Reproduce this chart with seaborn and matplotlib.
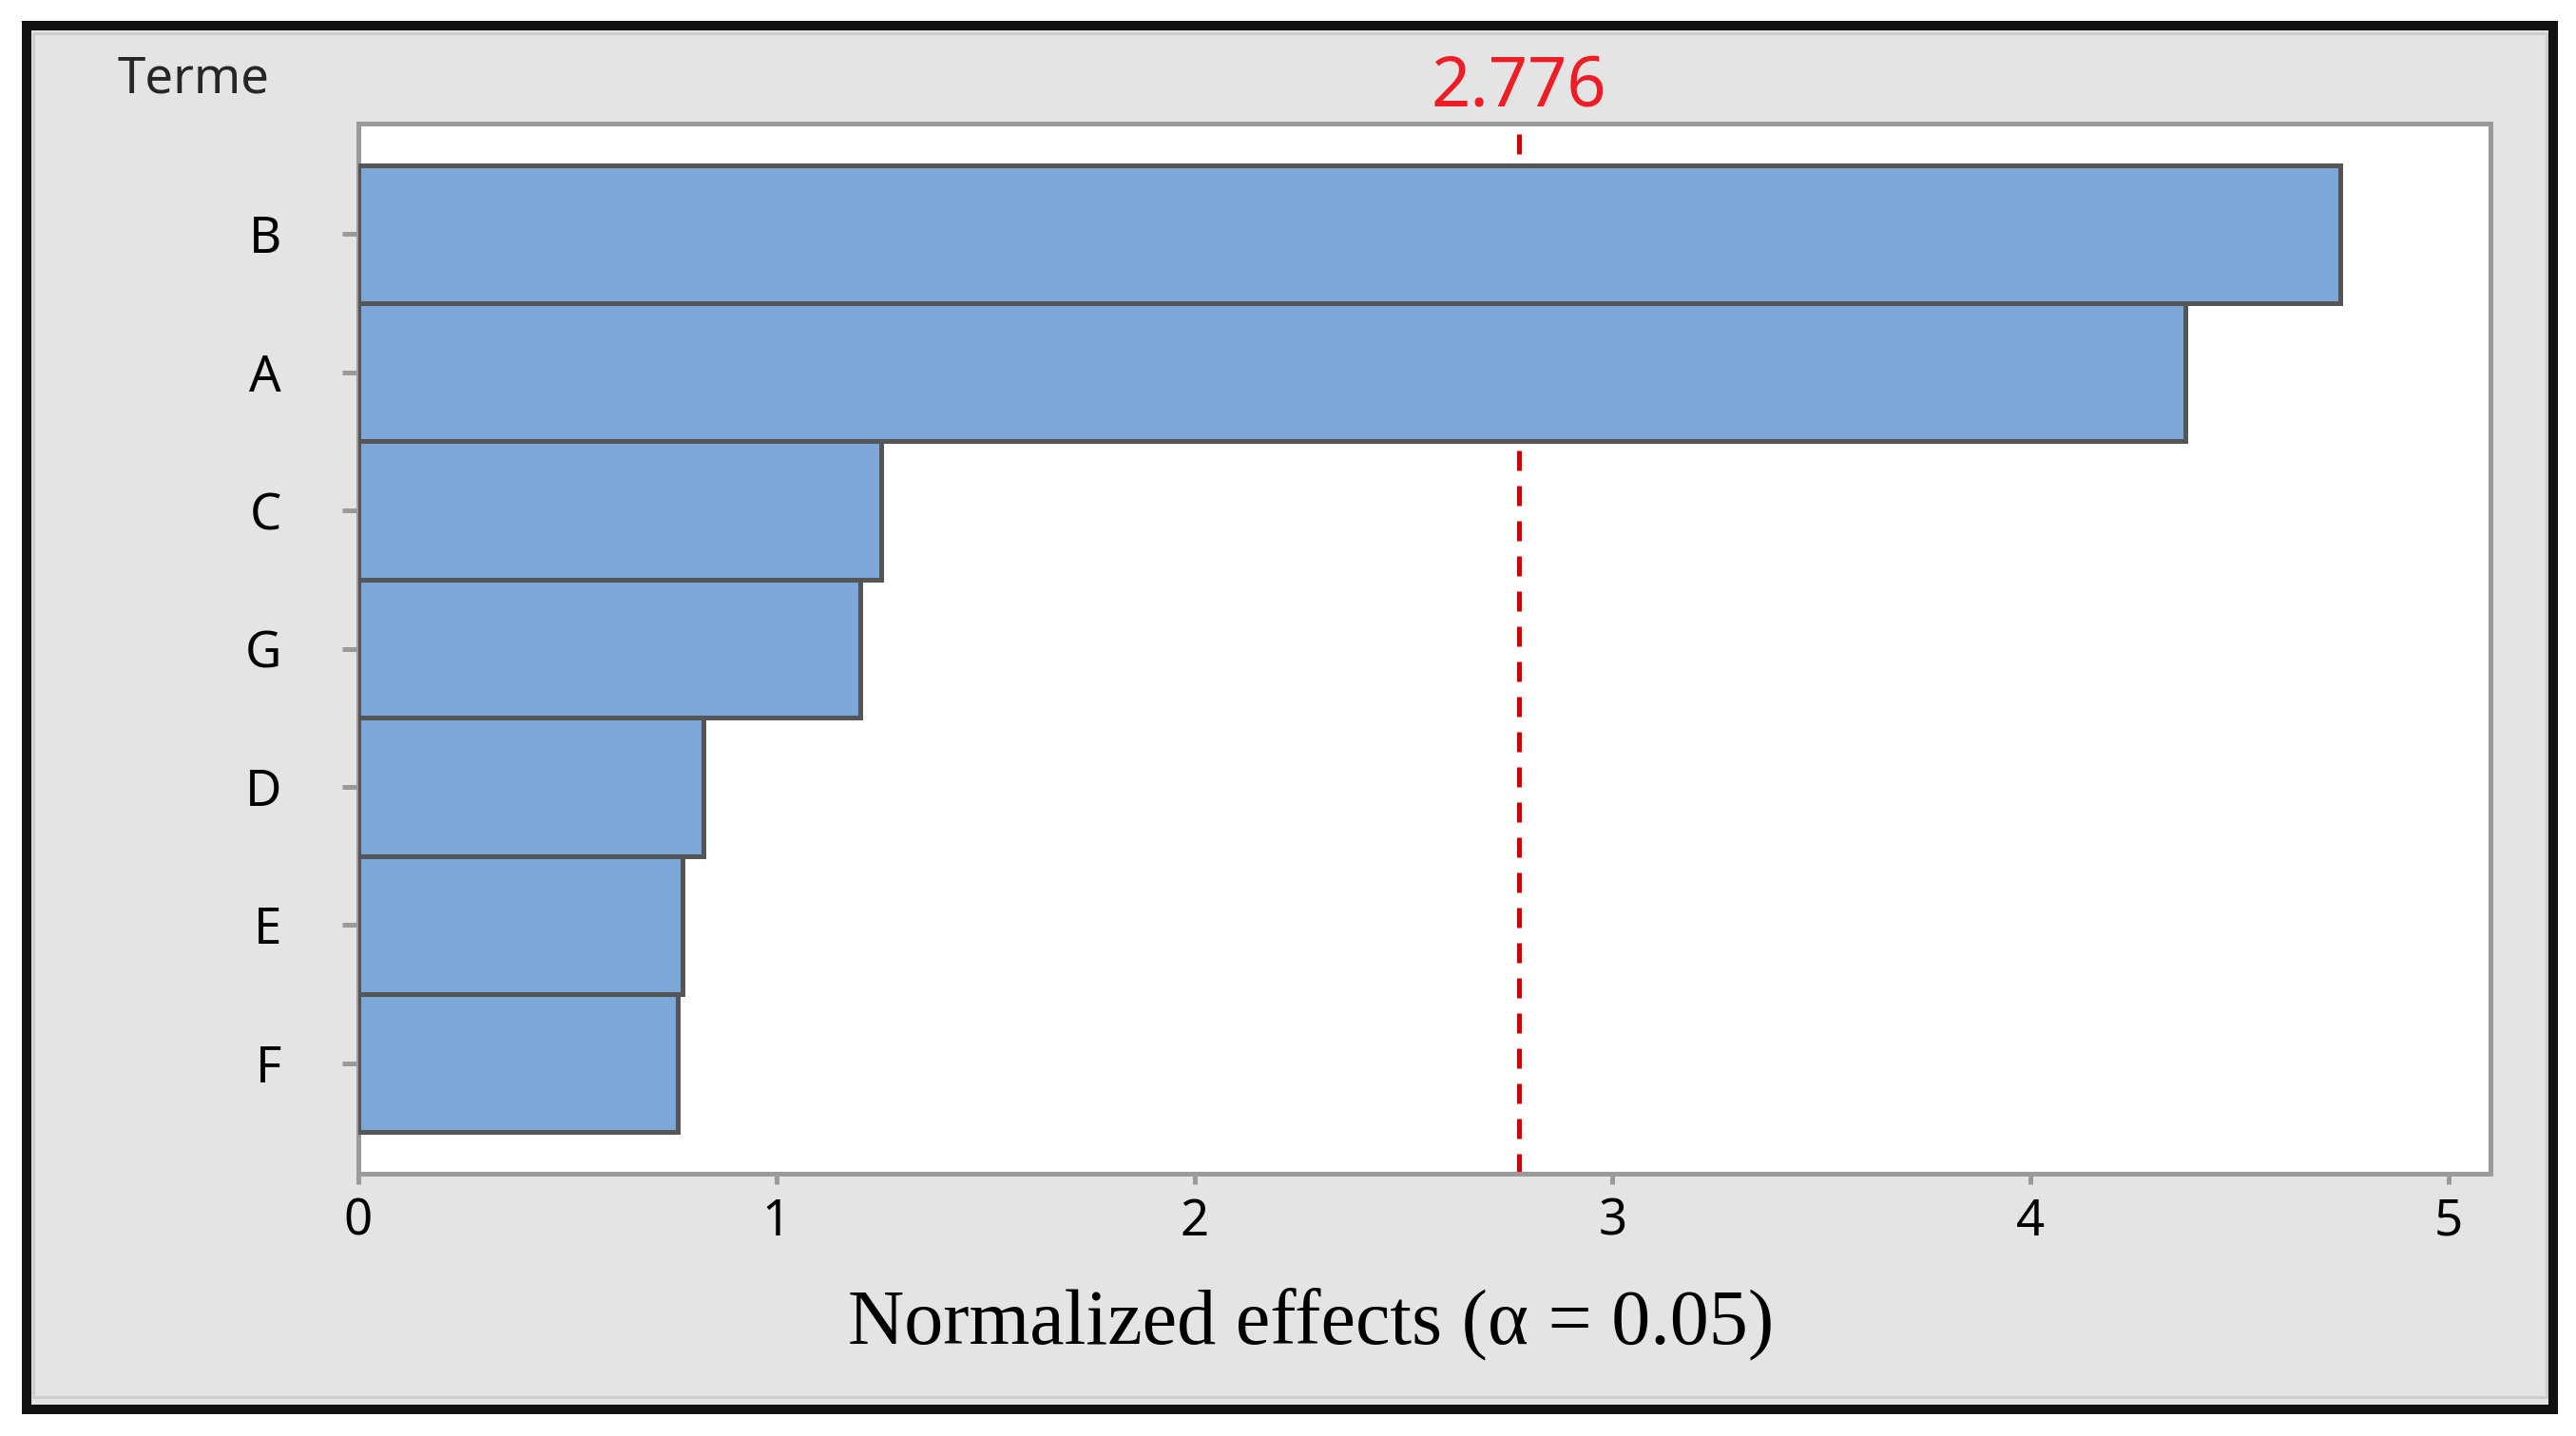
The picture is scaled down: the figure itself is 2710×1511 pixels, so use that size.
import matplotlib
matplotlib.use("Agg")
import matplotlib.pyplot as plt
import matplotlib.transforms as mtransforms
from matplotlib.patches import Rectangle
import seaborn as sns
import pandas as pd

terms = ["B", "A", "C", "G", "D", "E", "F"]
effects = [4.74, 4.37, 1.25, 1.20, 0.825, 0.775, 0.765]
critical = 2.776
xticks = [0, 1, 2, 3, 4, 5]

W, H, DPI = 2710, 1511, 100
px = 72 / DPI  # points per pixel

sns.set_style("white")
plt.rcParams["font.family"] = ["Noto Sans", "DejaVu Sans"]

fig = plt.figure(figsize=(W / DPI, H / DPI), dpi=DPI, facecolor="white")

# grey panel with thick black frame, plus the light bevel line inside it
fig.patches.append(Rectangle((28 / W, 28 / H), (2686 - 28) / W, (1484 - 28) / H,
                             transform=fig.transFigure, facecolor="#e4e4e4",
                             edgecolor="#111111", lw=10 * px, zorder=-2))
fig.patches.append(Rectangle((35 / W, 41 / H), (2679 - 35) / W, (1476 - 41) / H,
                             transform=fig.transFigure, facecolor="none",
                             edgecolor="#cdcdcd", lw=3 * px, zorder=-1))

ax = fig.add_axes([377 / W, 1 - 1235 / H, (2620 - 377) / W, (1235 - 130) / H])
ax.set_zorder(1)
ax.set_facecolor("white")

df = pd.DataFrame({"Terme": terms, "effect": effects})
sns.barplot(data=df, x="effect", y="Terme", order=terms, orient="h",
            color="#7da7d9", saturation=1, width=1.0,
            edgecolor="#555555", linewidth=5 * px, ax=ax, zorder=3)

ax.axvline(critical, color="#d40000", lw=5 * px, dashes=(4.2, 3.2), zorder=2)

ax.set_xlim(0, 5.1)
ax.set_ylim(6.8, -0.8)
ax.set_xticks(xticks)
ax.set_xticklabels([str(t) for t in xticks])

for s in ax.spines.values():
    s.set_visible(True)
    s.set_color("#9a9a9a")
    s.set_linewidth(5 * px)

ax.tick_params(axis="y", left=True, length=17 * px, width=5 * px, color="#9a9a9a",
               pad=46, labelsize=38, labelcolor="black")
ax.tick_params(axis="x", bottom=True, length=11 * px, width=5 * px, color="#9a9a9a",
               pad=10, labelsize=38, labelcolor="black")

ax.set_ylabel("")
ax.set_xlabel("Normalized effects (α = 0.05)",
              fontfamily=["Liberation Serif", "DejaVu Serif"], fontsize=59,
              va="baseline", color="black")
ax.xaxis.set_label_coords(0.447, -0.161)

fig.text(123 / W, 1 - 97 / H, "Terme", fontsize=38, ha="left", va="baseline")

trans = mtransforms.blended_transform_factory(ax.transData, fig.transFigure)
ax.text(critical, 1 - 112 / H, f"{critical:.3f}", transform=trans, fontsize=52,
        color="#ee1c24", ha="center", va="baseline")

fig.savefig("out.png", dpi=DPI, facecolor=fig.get_facecolor())
